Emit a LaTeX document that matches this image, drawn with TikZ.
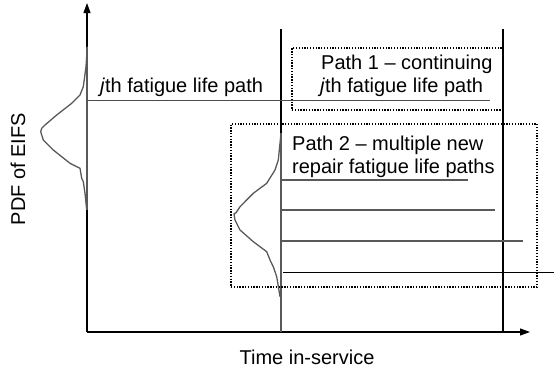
\documentclass[tikz,border=0pt]{standalone}
\usepackage{fontspec}
\setmainfont{Liberation Sans}
\usetikzlibrary{arrows.meta}
\begin{document}
\begin{tikzpicture}[x=1pt,y=-1pt,
  axisline/.style={line width=1.1pt,-{Triangle[length=10pt,width=7pt]}},
  timeline/.style={line width=1.1pt},
  pathline/.style={line width=1.2pt,draw=black!65},
  thinpath/.style={line width=0.9pt,draw=black!70},
  pdfcurve/.style={line width=1.3pt,draw=black!65},
  dotbox/.style={draw,line width=1.4pt,dash pattern=on 1.3pt off 1.5pt,inner sep=0pt},
  label/.style={inner sep=0pt,font=\fontsize{20}{23}\selectfont}]
\useasboundingbox (0,0) rectangle (554,370);

% axes
\coordinate (O) at (87,332);
\coordinate (ytop) at (87,3);
\coordinate (xend) at (530,332);
\draw[axisline] (O) -- (ytop);
\draw[axisline] (O) -- (xend);

% repair time and end of service
\coordinate (r0) at (281,29);
\coordinate (r1) at (281,332);
\coordinate (e0) at (503,29);
\coordinate (e1) at (503,332);
\draw[timeline] (r0) -- (r1);
\draw[timeline] (e0) -- (e1);

% initial EIFS distribution
\draw[pdfcurve] (87.3,46.7) -- (86,66.7) -- (83.3,86.7) -- (80,95) -- (71.7,103.3)
  -- (56.7,115) -- (45,125) -- (41.7,128.3) -- (40.7,131.7) -- (43.3,140)
  -- (53.3,150) -- (70,163.3) -- (80,168.3) -- (81.7,178.3) -- (83.3,181.7)
  -- (85,193.3) -- (86.7,210);
\draw[pdfcurve] (87,46.7) -- (87,210);

% EIFS distribution after repair
\draw[pdfcurve] (281,133.3) -- (280,143.3) -- (278.3,160) -- (275,170) -- (266.7,183.3)
  -- (253.3,193.3) -- (240,206.7) -- (236,212.7) -- (234,214) -- (235,220)
  -- (240,230) -- (253.3,241.7) -- (266.7,251.7) -- (270,260) -- (273.3,266.7)
  -- (276.7,276.7) -- (280,296.7);
\draw[pdfcurve] (281,133.3) -- (281,332);

% j-th fatigue life path
\coordinate (j0) at (87,100);
\coordinate (j1) at (490,100);
\draw[thinpath] (j0) -- (j1);
\node[label,anchor=base west] (jlab) at (100,92) {\textit{j}th fatigue life path};

% new repair fatigue life paths
\coordinate (a0) at (281,180); \coordinate (a1) at (468,180);
\coordinate (b0) at (281,210); \coordinate (b1) at (495,210);
\coordinate (c0) at (281,241); \coordinate (c1) at (523,241);
\coordinate (d0) at (283,272); \coordinate (d1) at (554,272);
\draw[pathline] (a0) -- (a1);
\draw[pathline] (b0) -- (b1);
\draw[pathline] (c0) -- (c1);
\draw[line width=1pt] (d0) -- (d1);

% path boxes
\node[dotbox,minimum width=211pt,minimum height=62pt] (box1) at (397.5,79) {};
\node[label,anchor=base west] (p1a) at (321,69) {Path 1 -- continuing};
\node[label,anchor=base west] (p1b) at (320,92.5) {\textit{j}th fatigue life path};

\node[dotbox,minimum width=306pt,minimum height=163pt] (box2) at (384,205.5) {};
\node[label,anchor=base west] (p2a) at (292,150.5) {Path 2 -- multiple new};
\node[label,anchor=base west] (p2b) at (292,173) {repair fatigue life paths};

% axis titles
\node[label,rotate=90] (ylab) at (18,169) {PDF of EIFS};
\node[label] (xlab) at (307,357) {Time in-service};
\end{tikzpicture}
\end{document}
